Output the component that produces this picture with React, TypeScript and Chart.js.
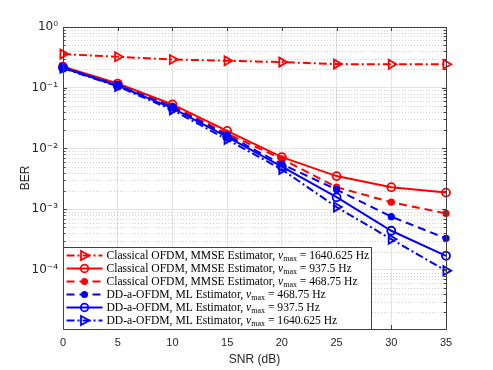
import React, { useEffect, useRef } from "react";
import { Chart, registerables } from "chart.js";
Chart.register(...registerables);

const snrDb = [0, 5, 10, 15, 20, 25, 30, 35];
const classicalMmse1640 = [0.358, 0.323, 0.292, 0.278, 0.264, 0.245, 0.243, 0.243];
const classicalMmse937 = [0.222, 0.117, 0.053, 0.0194, 0.0072, 0.0035, 0.0023, 0.00187];
const classicalMmse468 = [0.218, 0.113, 0.05, 0.0175, 0.0067, 0.0023, 0.0013, 0.00085];
const ddMl468 = [0.215, 0.11, 0.048, 0.0165, 0.0055, 0.0021, 0.00075, 0.00033];
const ddMl937 = [0.213, 0.108, 0.046, 0.0155, 0.005, 0.00157, 0.00044, 0.00017];
const ddMl1640 = [0.21, 0.105, 0.043, 0.014, 0.0045, 0.00108, 0.00032, 0.000097];

const legendPrefixes = [
  "Classical OFDM, MMSE Estimator, ",
  "Classical OFDM, MMSE Estimator, ",
  "Classical OFDM, MMSE Estimator, ",
  "DD-a-OFDM, ML Estimator, ",
  "DD-a-OFDM, ML Estimator, ",
  "DD-a-OFDM, ML Estimator, ",
];
const legendNu = ["1640.625", "937.5", "468.75", "468.75", "937.5", "1640.625"];
const yExponents = [0, -1, -2, -3, -4];
const xTickValues = [0, 5, 10, 15, 20, 25, 30, 35];
const yMin = 1.06e-5;
const yMax = 1;

const seriesValues = [classicalMmse1640, classicalMmse937, classicalMmse468, ddMl468, ddMl937, ddMl1640];
const RED = "#ff0000";
const BLUE = "#0000ff";
const styles = [
  { color: RED, dash: [8, 3, 2, 3], marker: "tri" },
  { color: RED, dash: [], marker: "circle" },
  { color: RED, dash: [8, 5], marker: "dot" },
  { color: BLUE, dash: [8, 5], marker: "dot" },
  { color: BLUE, dash: [], marker: "circle" },
  { color: BLUE, dash: [8, 3, 2, 3], marker: "tri" },
];

const SUP: Record<string, string> = { "0": "⁰", "1": "¹", "2": "²", "3": "³", "4": "⁴", "5": "⁵", "-": "⁻" };
const sup = (n: number) => String(n).split("").map((c) => SUP[c] || c).join("");

function drawMarker(ctx: CanvasRenderingContext2D, kind: string, x: number, y: number, color: string) {
  ctx.save();
  ctx.setLineDash([]);
  ctx.strokeStyle = color;
  ctx.fillStyle = color;
  ctx.lineWidth = 1.8;
  ctx.beginPath();
  if (kind === "tri") {
    ctx.moveTo(x + 5, y);
    ctx.lineTo(x - 3.5, y - 4.5);
    ctx.lineTo(x - 3.5, y + 4.5);
    ctx.closePath();
    ctx.stroke();
  } else if (kind === "circle") {
    ctx.arc(x, y, 3.8, 0, Math.PI * 2);
    ctx.stroke();
  } else {
    ctx.arc(x, y, 3.5, 0, Math.PI * 2);
    ctx.fill();
  }
  ctx.restore();
}

const matlabPlugin = {
  id: "matlabDecor",
  beforeDatasetsDraw(chart: any) {
    const { ctx, chartArea: a, scales } = chart;
    const y = scales.y;
    ctx.save();
    ctx.strokeStyle = "rgba(0,0,0,0.18)";
    ctx.lineWidth = 1;
    ctx.setLineDash([1, 2]);
    for (let k = -5; k < 0; k++) {
      for (let m = 2; m <= 9; m++) {
        const py = Math.round(y.getPixelForValue(m * Math.pow(10, k))) + 0.5;
        if (py > a.bottom) continue;
        ctx.beginPath();
        ctx.moveTo(a.left, py);
        ctx.lineTo(a.right, py);
        ctx.stroke();
      }
    }
    ctx.restore();
  },
  afterDraw(chart: any) {
    const { ctx, chartArea: a, scales } = chart;
    const x = scales.x;
    const y = scales.y;
    ctx.save();
    ctx.setLineDash([]);
    ctx.strokeStyle = "#404040";
    ctx.lineWidth = 1;
    ctx.beginPath();
    for (const v of xTickValues) {
      const px = Math.round(x.getPixelForValue(v)) + 0.5;
      ctx.moveTo(px, a.bottom);
      ctx.lineTo(px, a.bottom - 4);
      ctx.moveTo(px, a.top);
      ctx.lineTo(px, a.top + 4);
    }
    for (let k = -5; k <= 0; k++) {
      for (let m = 1; m <= 9; m++) {
        if (k === 0 && m > 1) continue;
        const py = Math.round(y.getPixelForValue(m * Math.pow(10, k))) + 0.5;
        if (py > a.bottom) continue;
        const len = m === 1 ? 4 : 2.5;
        ctx.moveTo(a.left, py);
        ctx.lineTo(a.left + len, py);
        ctx.moveTo(a.right, py);
        ctx.lineTo(a.right - len, py);
      }
    }
    ctx.stroke();
    ctx.strokeRect(Math.round(a.left) + 0.5, Math.round(a.top) + 0.5, Math.round(a.right - a.left), Math.round(a.bottom - a.top));

    // legend
    const lw = 308;
    const lh = 82;
    const lx = Math.round(a.left) + 0.5;
    const ly = Math.round(a.bottom - lh) + 0.5;
    ctx.fillStyle = "#ffffff";
    ctx.fillRect(lx, ly, lw, lh);
    ctx.strokeStyle = "#404040";
    ctx.strokeRect(lx, ly, lw, lh);
    const mainFont = "11.6px 'Liberation Serif'";
    const itFont = "italic 11.6px 'Liberation Serif'";
    const subFont = "8px 'Liberation Serif'";
    for (let i = 0; i < 6; i++) {
      const cy = ly + 8 + i * 13;
      const st = styles[i];
      ctx.strokeStyle = st.color;
      ctx.lineWidth = 2;
      ctx.setLineDash(st.dash);
      ctx.beginPath();
      ctx.moveTo(lx + 3, cy);
      ctx.lineTo(lx + 39, cy);
      ctx.stroke();
      drawMarker(ctx, st.marker, lx + 21, cy, st.color);
      ctx.fillStyle = "#000000";
      ctx.textBaseline = "middle";
      ctx.textAlign = "left";
      let tx = lx + 43;
      ctx.font = mainFont;
      ctx.fillText(legendPrefixes[i], tx, cy);
      tx += ctx.measureText(legendPrefixes[i]).width;
      ctx.font = itFont;
      ctx.fillText("ν", tx, cy);
      tx += ctx.measureText("ν").width;
      ctx.font = subFont;
      ctx.fillText("max", tx, cy + 3);
      tx += ctx.measureText("max").width;
      ctx.font = mainFont;
      const rest = " = " + legendNu[i] + " Hz";
      ctx.fillText(rest, tx, cy);
    }
    ctx.restore();
  },
};

export default function App() {
  const ref = useRef<HTMLCanvasElement>(null);
  useEffect(() => {
    const n = seriesValues.length;
    const datasets = seriesValues.map((vals, i) => {
      const st = styles[i];
      return {
        label: legendPrefixes[i] + "ν_max = " + legendNu[i] + " Hz",
        data: snrDb.map((s, j) => ({ x: s, y: vals[j] })),
        borderColor: st.color,
        backgroundColor: st.marker === "dot" ? st.color : "rgba(0,0,0,0)",
        borderWidth: 2,
        borderDash: st.dash,
        pointStyle: st.marker === "tri" ? "triangle" : "circle",
        rotation: st.marker === "tri" ? 90 : 0,
        pointRadius: st.marker === "tri" ? 5.2 : st.marker === "circle" ? 4 : 3.6,
        pointBorderWidth: st.marker === "dot" ? 0 : 1.8,
        pointBackgroundColor: st.marker === "dot" ? st.color : "rgba(0,0,0,0)",
        order: n - 1 - i,
        tension: 0,
        clip: false,
      };
    });
    const chart = new Chart(ref.current!, {
      type: "line",
      data: { datasets },
      plugins: [matlabPlugin],
      options: {
        animation: false,
        responsive: false,
        maintainAspectRatio: false,
        layout: { padding: { left: 0, top: 27, right: 47, bottom: 0 } },
        plugins: { legend: { display: false }, tooltip: { enabled: false } },
        scales: {
          x: {
            type: "linear",
            min: 0,
            max: 35,
            afterBuildTicks: (s: any) => {
              s.ticks = xTickValues.map((v) => ({ value: v }));
            },
            afterFit: (s: any) => {
              s.height = 41;
            },
            grid: { color: "#e3e3e3", drawTicks: false, lineWidth: 1 },
            border: { display: false },
            ticks: {
              padding: 7,
              color: "#262626",
              font: { family: "'Liberation Sans', Arial", size: 11 },
              maxRotation: 0,
            },
            title: {
              display: true,
              text: "SNR (dB)",
              color: "#262626",
              font: { family: "'Liberation Sans', Arial", size: 12 },
              padding: { top: 0, bottom: 3 },
            },
          },
          y: {
            type: "logarithmic",
            min: yMin,
            max: yMax,
            afterBuildTicks: (s: any) => {
              s.ticks = yExponents.map((e) => ({ value: Math.pow(10, e), major: true }));
            },
            afterFit: (s: any) => {
              s.width = 63;
            },
            grid: { color: "#e3e3e3", drawTicks: false, lineWidth: 1 },
            border: { display: false },
            ticks: {
              padding: 5,
              color: "#262626",
              font: { family: "'DejaVu Sans', 'Liberation Sans'", size: 12 },
              callback: (v: any) => "10" + sup(Math.round(Math.log10(Number(v)))),
            },
            title: {
              display: true,
              text: "BER",
              color: "#262626",
              font: { family: "'Liberation Sans', Arial", size: 12 },
              padding: { top: 18, bottom: 0 },
            },
          },
        },
      },
    } as any);
    return () => chart.destroy();
  }, []);
  return (
    <div style={{ position: "fixed", left: 0, top: 0, width: 493, height: 370, background: "#fff" }}>
      <canvas ref={ref} width={493} height={370} style={{ display: "block", width: 493, height: 370 }} />
    </div>
  );
}
